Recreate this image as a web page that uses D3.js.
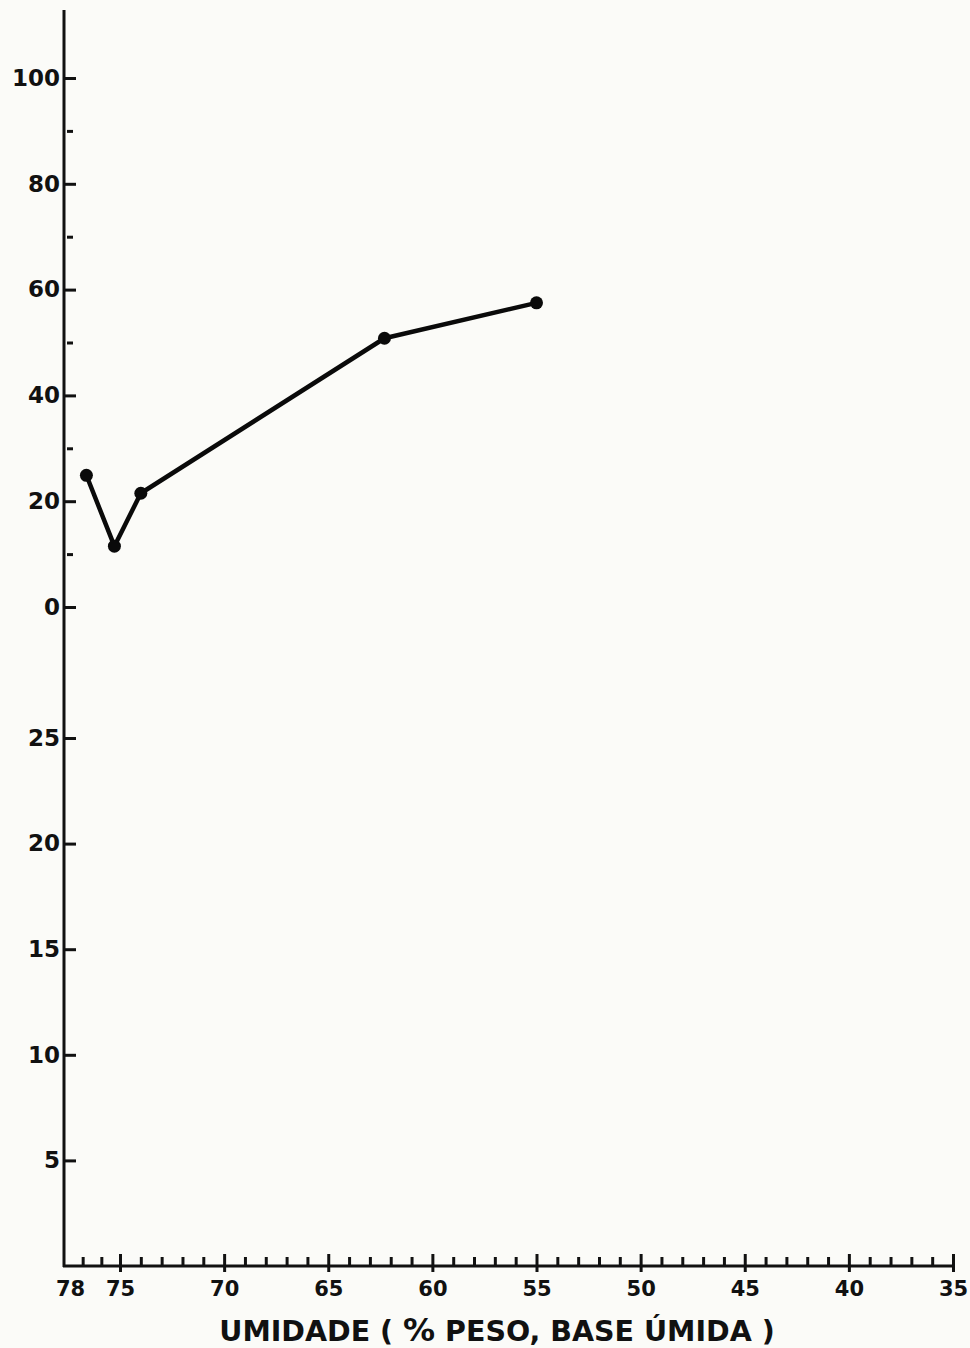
<!DOCTYPE html>
<html>
<head>
<meta charset="utf-8">
<script src="https://cdn.jsdelivr.net/npm/d3@7"></script>
<style>
  body{margin:0;background:#fbfbf8;}
  svg{display:block;}
</style>
</head>
<body>
<svg id="chart"></svg>
<script>
// pontos (umidade % x perdas)
var umidade=[76.8,75.3,74.0,62.3,55.0];
var perdas=[24.9,11.5,21.5,50.8,57.5];
var xTicks=[78,75,70,65,60,55,50,45,40,35];
var xMinor=d3.range(36,78).filter(function(d){return xTicks.indexOf(d)<0;});
var yTicksTop=[0,20,40,60,80,100];
var yMinorTop=[10,30,50,70,90];
var yTicksBottom=[5,10,15,20,25];

var width=970;
var height=1348;
var axisX=64;
var axisY=1266;

var svg=d3.select("#chart")
  .attr("width",width)
  .attr("height",height);

// escala x desenhada a mao: 78-75 um pouco mais estreito
var xScale=d3.scaleLinear()
  .domain([78,75,35])
  .range([axisX,120,953]);
var yTop=d3.scaleLinear()
  .domain([0,100])
  .range([607,78]);
var yBottom=d3.scaleLinear()
  .domain([0,25])
  .range([axisY,738]);

var tickFont="'DejaVu Sans', sans-serif";

var styleY=function(g){
  g.select(".domain").remove();
  g.selectAll("line").attr("stroke","#111").attr("stroke-width",3);
  g.selectAll("text").attr("fill","#111").style("font-family",tickFont)
   .style("font-weight","bold").style("font-size","23px");
};

// eixo y (parte de cima)
svg.append("g")
  .attr("transform","translate("+axisX+",0)")
  .call(d3.axisLeft(yTop).tickValues(yTicksTop).tickSize(-12).tickPadding(4))
  .call(styleY);
svg.append("g")
  .attr("transform","translate("+axisX+",0)")
  .call(d3.axisLeft(yTop).tickValues(yMinorTop).tickSize(-9).tickFormat(""))
  .call(function(g){
    g.select(".domain").remove();
    g.selectAll("line").attr("stroke","#111").attr("stroke-width",3).attr("x1",3);
  });

// eixo y (parte de baixo)
svg.append("g")
  .attr("transform","translate("+axisX+",0)")
  .call(d3.axisLeft(yBottom).tickValues(yTicksBottom).tickSize(-12).tickPadding(4))
  .call(styleY);

// linha do eixo y
svg.append("line")
  .attr("x1",axisX).attr("x2",axisX)
  .attr("y1",10).attr("y2",axisY+1)
  .attr("stroke","#111").attr("stroke-width",3);

// eixo x
svg.append("g")
  .attr("transform","translate(0,"+axisY+")")
  .call(d3.axisBottom(xScale).tickValues(xTicks).tickSize(6).tickPadding(9))
  .call(function(g){
    g.select(".domain").remove();
    g.selectAll("line").attr("stroke","#111").attr("stroke-width",3).attr("y1",-12);
    g.selectAll("text").attr("fill","#111").style("font-family",tickFont)
     .style("font-weight","bold").style("font-size","21px");
    var t78=g.selectAll(".tick").filter(function(d){return d==78;});
    t78.select("line").remove();
    t78.select("text").attr("dx",6);
  });
svg.append("g")
  .attr("transform","translate(0,"+axisY+")")
  .call(d3.axisBottom(xScale).tickValues(xMinor).tickSize(-9).tickFormat(""))
  .call(function(g){
    g.select(".domain").remove();
    g.selectAll("line").attr("stroke","#111").attr("stroke-width",3);
  });
svg.append("line")
  .attr("x1",axisX-1).attr("x2",xScale(35))
  .attr("y1",axisY).attr("y2",axisY)
  .attr("stroke","#111").attr("stroke-width",3);

// titulo do eixo x
var title=svg.append("text")
  .attr("x",497)
  .attr("y",1341)
  .attr("text-anchor","middle")
  .attr("fill","#111")
  .style("font-family",tickFont)
  .style("font-size","28.5px")
  .style("font-weight","600");
title.append("tspan").text("UMIDADE ( ");
title.append("tspan").style("font-size","32px").text("%");
title.append("tspan").text(" PESO, BASE ÚMIDA )");

// curva
var pts=umidade.map(function(d,i){return [d,perdas[i]];});
var line=d3.line()
  .x(function(d){return xScale(d[0]);})
  .y(function(d){return yTop(d[1]);});
svg.append("path")
  .datum(pts)
  .attr("d",line)
  .attr("fill","none")
  .attr("stroke","#0a0a0a")
  .attr("stroke-width",4.5)
  .attr("stroke-linejoin","round");
svg.selectAll("circle.pt")
  .data(pts)
  .enter()
  .append("circle")
  .attr("class","pt")
  .attr("cx",function(d){return xScale(d[0]);})
  .attr("cy",function(d){return yTop(d[1]);})
  .attr("r",6.5)
  .attr("fill","#0a0a0a");
</script>
</body>
</html>
